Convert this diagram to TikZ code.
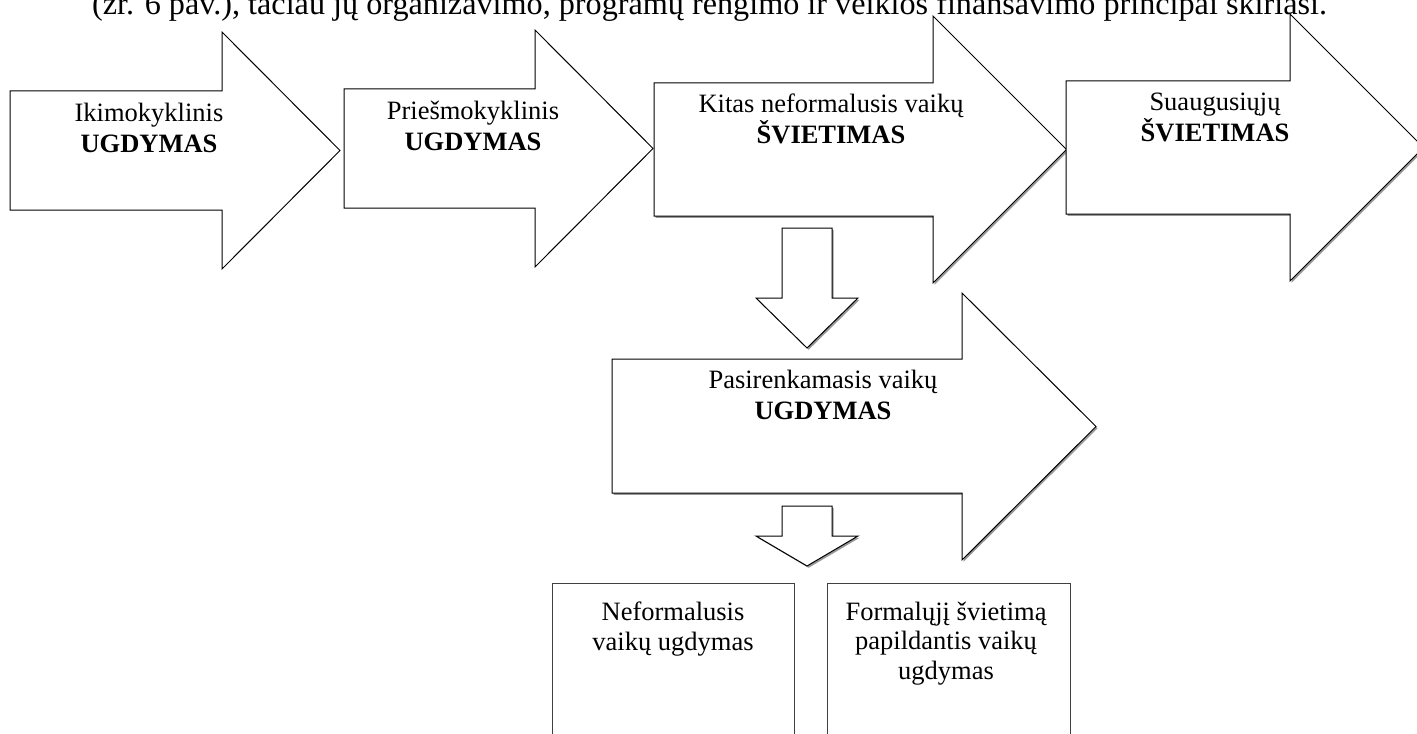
\documentclass[tikz,border=0pt]{standalone}
\usepackage{fontspec}
\setmainfont{Liberation Serif}
\usetikzlibrary{shadows}
\begin{document}
\begin{tikzpicture}[x=0.5pt,y=-0.5pt,
  arrowshape/.style={draw=black, line width=0.5pt, fill=white, line join=miter},
  shadowed/.style={drop shadow={shadow xshift=0.8pt, shadow yshift=-0.9pt, fill=black!40, opacity=1}},
  lbl/.style={font=\fontsize{13.25}{15.5}\selectfont, align=center, inner sep=0pt, anchor=base},
  boxlbl/.style={font=\fontsize{13.25}{14.75}\selectfont, align=center, inner sep=0pt, anchor=base},
  boxstyle/.style={draw=black!75, line width=0.5pt, fill=white},
  toptext/.style={font=\fontsize{16.1}{19}\selectfont, inner sep=0pt, anchor=base}]
\useasboundingbox (0,0) rectangle (1417,733);
\fill[white] (0,0) rectangle (1417,733);

% top text line (cut off by page, as in the reference)
\node[toptext] (top) at (709.5,15) {(žr. 6 pav.), tačiau jų organizavimo, programų rengimo ir veiklos finansavimo principai skiriasi.};

% arrow 1
\path[arrowshape] (10,91) -- (222,91) -- (222,32) -- (340,150.5) -- (222,269) -- (222,210) -- (10,210) -- cycle;
\node[lbl] (a1) at (149,152) {Ikimokyklinis\\\textbf{UGDYMAS}};

% arrow 2
\path[arrowshape] (344,89) -- (535,89) -- (535,30) -- (653,148.5) -- (535,267) -- (535,208) -- (344,208) -- cycle;
\node[lbl] (a2) at (473,150) {Priešmokyklinis\\\textbf{UGDYMAS}};

% arrow 3
\path[arrowshape,shadowed] (654,83) -- (933,83) -- (933,16) -- (1066.5,149.5) -- (933,283) -- (933,216) -- (654,216) -- cycle;
\node[lbl] (a3) at (831,143) {Kitas neformalusis vaikų\\\textbf{ŠVIETIMAS}};

% arrow 4
\path[arrowshape,shadowed] (1066,81) -- (1290,81) -- (1290,14) -- (1423.5,147.5) -- (1290,281) -- (1290,214) -- (1066,214) -- cycle;
\node[lbl] (a4) at (1215,141) {Suaugusiųjų\\\textbf{ŠVIETIMAS}};

% down arrow 1
\path[arrowshape,shadowed] (782,228) -- (832,228) -- (832,298) -- (858,298) -- (807,348) -- (756,298) -- (782,298) -- cycle;

% arrow 5
\path[arrowshape,shadowed] (612,359) -- (962,359) -- (962,293) -- (1096,426.5) -- (962,560) -- (962,493) -- (612,493) -- cycle;
\node[lbl] (a5) at (823,419) {Pasirenkamasis vaikų\\\textbf{UGDYMAS}};

% down arrow 2
\path[arrowshape,shadowed] (782,506) -- (832,506) -- (832,536) -- (858,536) -- (807,566) -- (756,536) -- (782,536) -- cycle;

% boxes
\path[boxstyle] (552,583) rectangle (794,745);
\node[boxlbl] (b1) at (673,650) {Neformalusis\\vaikų ugdymas};
\path[boxstyle] (827,583) rectangle (1070,745);
\node[boxlbl] (b2) at (946,679) {Formalųjį švietimą\\papildantis vaikų\\ugdymas};
\end{tikzpicture}
\end{document}
